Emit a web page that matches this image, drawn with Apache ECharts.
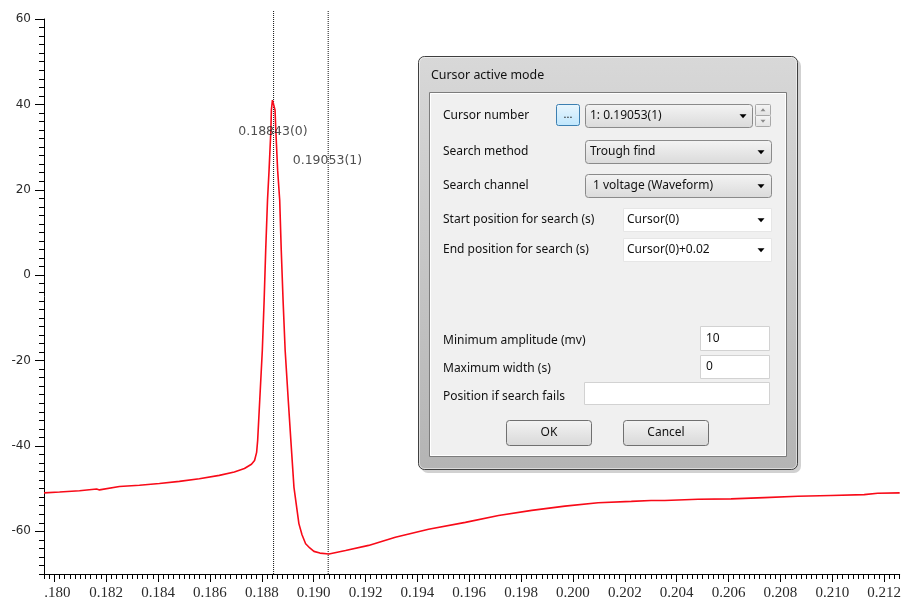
<!DOCTYPE html>
<html>
<head>
<meta charset="utf-8">
<script src="https://cdn.jsdelivr.net/npm/echarts@6/dist/echarts.min.js"></script>
<style>html,body{margin:0;padding:0;background:#fff;}#c{width:904px;height:605px;}</style>
</head>
<body>
<div id="c"></div>
<script>
// ---- data ----
const timeS = [0.17960,0.18020,0.18097,0.18163,0.18174,0.18251,0.18328,0.18405,0.18482,0.18559,0.18636,0.18694,0.18733,0.18760,0.18772,0.18780,0.18784,0.18792,0.18802,0.18809,0.18815,0.18822,0.18828,0.18835,0.18837,0.18841,0.18845,0.18851,0.18854,0.18861,0.18869,0.18875,0.18882,0.18890,0.18902,0.18912,0.18924,0.18943,0.18955,0.18969,0.18985,0.19001,0.19024,0.19059,0.19123,0.19212,0.19315,0.19443,0.19585,0.19713,0.19841,0.19969,0.20097,0.20225,0.20301,0.20354,0.20482,0.20610,0.20738,0.20867,0.20995,0.21123,0.21175,0.21260];
const voltageMv = [-51.0,-50.8,-50.5,-50.1,-50.3,-49.5,-49.2,-48.8,-48.3,-47.7,-46.9,-46.1,-45.3,-44.3,-43.4,-41.5,-38.7,-29.3,-17.6,-5.9,5.8,17.6,24.6,34.0,38.7,41.0,41.0,38.7,34.0,24.6,17.6,5.8,-5.9,-17.6,-29.3,-38.7,-49.7,-58.2,-60.8,-62.9,-63.9,-64.7,-65.1,-65.3,-64.5,-63.3,-61.4,-59.5,-57.9,-56.3,-55.1,-54.1,-53.3,-53.0,-52.8,-52.8,-52.5,-52.4,-52.1,-51.8,-51.6,-51.4,-51.1,-51.0];
const cursorTimes = [0.18843, 0.19053];
const cursorLabels = ['0.18843(0)', '0.19053(1)'];
const cursorLabelMv = [33.7, 26.9];
const xTickValues = [0.180,0.182,0.184,0.186,0.188,0.190,0.192,0.194,0.196,0.198,0.200,0.202,0.204,0.206,0.208,0.210,0.212];
const xTickLabels = ['.180','0.182','0.184','0.186','0.188','0.190','0.192','0.194','0.196','0.198','0.200','0.202','0.204','0.206','0.208','0.210','0.212'];
const yTickValues = [-60,-40,-20,0,20,40,60];
const xMin = 0.1796, xMax = 0.2126, yMin = -70, yMax = 60, yMaxCursor = 62.1;

const chart = echarts.init(document.getElementById('c'), null, {renderer:'canvas'});
const trace = timeS.map((t,i)=>[t, voltageMv[i]]);

const F = '"Noto Sans", sans-serif';
function R(x,y,w,h,fill,stroke,r,z){return {type:'rect',shape:{x:x,y:y,width:w,height:h,r:r||0},style:{fill:fill,stroke:stroke||null,lineWidth:1},z:z||100,silent:true};}
function T(x,y,t,o){o=o||{};return {type:'text',x:x,y:y,style:{text:t,fill:o.fill||'#111',font:(o.size||12)+'px '+F,textAlign:o.align||'left',textVerticalAlign:'middle',align:o.align||'left',verticalAlign:'middle'},z:o.z||103,silent:true};}
function tri(cx,cy,dir,col,s){s=s||4;const pts = dir==='down'?[[cx-s,cy-s/2],[cx+s,cy-s/2],[cx,cy+s/2+0.5]]:[[cx-s,cy+s/2],[cx+s,cy+s/2],[cx,cy-s/2-0.5]];return {type:'polygon',shape:{points:pts},style:{fill:col||'#000'},z:103,silent:true};}
function grad(a,b){return new echarts.graphic.LinearGradient(0,0,0,1,[{offset:0,color:a},{offset:1,color:b}]);}

const dlg = [];
dlg.push(R(421,59,380,414,'rgba(0,0,0,0.18)',null,7,98));
dlg.push(R(418.5,56.5,379,413,grad('#d8d8d8','#b4b4b4'),'#3f3f3f',6,99));
dlg.push(R(419.5,57.5,377,411,null,'rgba(255,255,255,0.5)',5,100));
dlg.push(T(431,75.5,'Cursor active mode',{size:12.4}));
dlg.push(R(429.5,92.5,357,364,'#f0f0f0','#7c7c7c',0,101));
dlg.push(R(430.5,93.5,355,362,null,'#ffffff',0,101));
// labels
[['Cursor number',115.5],['Search method',151.5],['Search channel',186],['Start position for search (s)',219.5],['End position for search (s)',250],['Minimum amplitude (mv)',340.5],['Maximum width (s)',368.5],['Position if search fails',396.5]].forEach(a=>dlg.push(T(443,a[1],a[0])));
// "..." button
dlg.push(R(556.5,104.5,23,21,grad('#eaf6fd','#bee6fd'),'#3c7fb1',2,102));
dlg.push(T(568,115,'...',{align:'center',size:11}));
// combo boxes (grey)
[[585.5,104.5,167,'1: 0.19053(1)',590,743],[585.5,140.5,186,'Trough find',590,761],[585.5,174.5,186,'1 voltage (Waveform)',593,761]].forEach(c=>{
  dlg.push(R(c[0],c[1],c[2],23,grad('#f4f4f4','#dadada'),'#8a8a8a',3,102));
  dlg.push(T(c[4],c[1]+11.5,c[3]));
  dlg.push(tri(c[5],c[1]+11.5,'down','#000',3.5));
});
// spinner
dlg.push(R(755.5,104.5,15,11,grad('#f6f6f6','#e2e2e2'),'#a8a8a8',1,102));
dlg.push(R(755.5,115.5,15,11,grad('#f6f6f6','#e2e2e2'),'#a8a8a8',1,102));
dlg.push(tri(763,110,'up','#8a8a8a',2.5));
dlg.push(tri(763,121,'down','#8a8a8a',2.5));
// white combos
[[208,'Cursor(0)'],[238,'Cursor(0)+0.02']].forEach(c=>{
  dlg.push(R(623.5,c[0]+0.5,148,23,'#ffffff','#e6e6e6',0,102));
  dlg.push(T(627,c[0]+12,c[1]));
  dlg.push(tri(761,c[0]+12,'down','#000',3.5));
});
// text boxes
dlg.push(R(700.5,326.5,69,24,'#ffffff','#d2d2d2',0,102));
dlg.push(T(706,338.5,'10'));
dlg.push(R(700.5,355.5,69,23,'#ffffff','#d2d2d2',0,102));
dlg.push(T(706,367,'0'));
dlg.push(R(584.5,382.5,185,22,'#ffffff','#d2d2d2',0,102));
// buttons
dlg.push(R(506.5,420.5,85,25,grad('#f4f4f4','#d8d8d8'),'#707070',3,102));
dlg.push(T(549,433,'OK',{align:'center'}));
dlg.push(R(623.5,420.5,85,25,grad('#f4f4f4','#d8d8d8'),'#707070',3,102));
dlg.push(T(666,433,'Cancel',{align:'center'}));

const series = [{
  type:'line', xAxisIndex:0, yAxisIndex:0, data:trace, showSymbol:false, symbol:'none',
  lineStyle:{color:'#f80a18', width:1.6}, z:3, animation:false
}];
cursorTimes.forEach((t,i)=>{
  series.push({type:'line', xAxisIndex:2, yAxisIndex:2, data:[[t,yMin],[t,yMaxCursor]], symbol:'none',
    lineStyle:{color:'#111', width:1, type:'dotted'}, z:2, animation:false});
});
series.push({
  type:'scatter', xAxisIndex:0, yAxisIndex:0, symbolSize:0, z:10,
  data: cursorTimes.map((t,i)=>[t, cursorLabelMv[i], cursorLabels[i]]),
  label:{show:true, position:'inside', formatter:p=>p.data[2], color:'#222', fontFamily:'DejaVu Sans', fontSize:12.5}
});

const option = {
  animation:false,
  backgroundColor:'#fff',
  grid:[{left:44,right:2,top:19,bottom:31},{left:44,right:2,top:10,bottom:31}],
  xAxis:[
    {type:'value', gridIndex:0, position:'bottom', min:xMin, max:xMax,
     axisLine:{show:true,onZero:false,lineStyle:{color:'#000',width:1}},
     axisTick:{show:true, customValues:xTickValues, length:8, lineStyle:{color:'#000'}},
     axisLabel:{customValues:xTickValues, margin:12, fontFamily:'Liberation Serif', fontSize:15, color:'#2a2a2a',
       formatter:function(v){const i = xTickValues.findIndex(x=>Math.abs(x-v)<1e-7); const s = i>=0?xTickLabels[i]:''; return i===0?'{a|'+s+'}':s;},
       rich:{a:{padding:[0,0,0,6], fontFamily:'Liberation Serif', fontSize:15, color:'#2a2a2a'}}},
     splitLine:{show:false}},
    {type:'value', gridIndex:0, position:'bottom', min:xMin, max:xMax, interval:0.0002,
     axisLine:{show:false,onZero:false}, axisTick:{show:true,length:5,lineStyle:{color:'#000'}},
     axisLabel:{show:false}, splitLine:{show:false}},
    {type:'value', gridIndex:1, min:xMin, max:xMax, show:false}
  ],
  yAxis:[
    {type:'value', gridIndex:0, position:'left', min:yMin, max:yMax,
     axisLine:{show:true,onZero:false,lineStyle:{color:'#000',width:1}},
     axisTick:{show:true, customValues:yTickValues, length:9, lineStyle:{color:'#000'}},
     axisLabel:{customValues:yTickValues, margin:13, fontFamily:'DejaVu Sans', fontSize:12, color:'#2a2a2a'},
     splitLine:{show:false}},
    {type:'value', gridIndex:0, position:'left', min:yMin, max:yMax, interval:2,
     axisLine:{show:false,onZero:false}, axisTick:{show:true,length:5,lineStyle:{color:'#000'}},
     axisLabel:{show:false}, splitLine:{show:false}},
    {type:'value', gridIndex:1, min:yMin, max:yMaxCursor, show:false}
  ],
  series:series,
  graphic:dlg
};
chart.setOption(option);
</script>
</body>
</html>
